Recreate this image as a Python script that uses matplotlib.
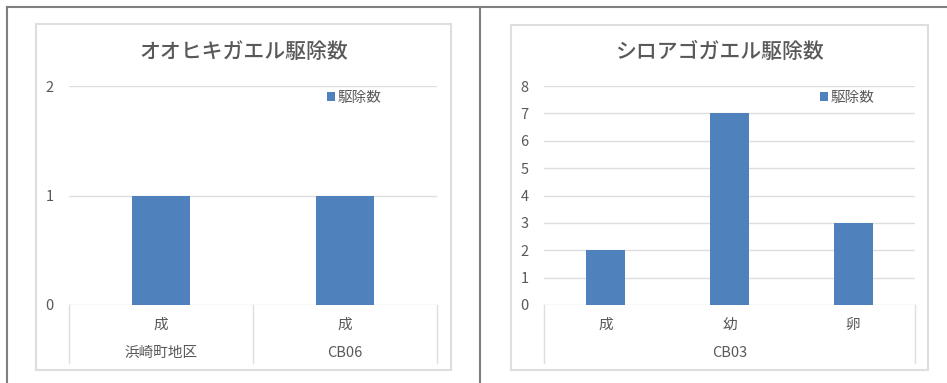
import matplotlib.pyplot as plt
from matplotlib.lines import Line2D
from matplotlib.patches import Rectangle
from matplotlib.transforms import blended_transform_factory

plt.rcParams['font.family'] = ['Noto Sans CJK JP', 'DejaVu Sans']

# オオヒキガエル
toad_stages = ['成', '成']
toad_groups = ['浜崎町地区', 'CB06']
toad_group_sizes = [1, 1]
toad_counts = [1, 1]

# シロアゴガエル
frog_stages = ['成', '幼', '卵']
frog_groups = ['CB03']
frog_group_sizes = [3]
frog_counts = [2, 7, 3]

W, H = 947, 383
BLUE = '#4f81bd'
GRID = '#dedede'
TEXT = '#595959'

fig = plt.figure(figsize=(W / 100, H / 100), dpi=100)


def box(x0, y0, x1, y1):
    # pixel box (top-left origin) -> figure fraction rect
    return [x0 / W, 1 - y1 / H, (x1 - x0) / W, (y1 - y0) / H]


def fline(xs, ys, **kw):
    fig.add_artist(Line2D([x / W for x in xs], [1 - y / H for y in ys],
                          transform=fig.transFigure, **kw))


# table borders around the two charts
fline([7, W], [7, 7], color='#7f7f7f', lw=1.5)
fline([7, 7], [7, H], color='#7f7f7f', lw=1.5)
fline([480, 480], [7, H], color='#7f7f7f', lw=1.5)


def chart(frame, plot, legend_xy, title, stages, groups, sizes, counts, ymax):
    fx0, fy0, fx1, fy1 = frame
    r = box(*frame)
    fig.add_artist(Rectangle((r[0], r[1]), r[2], r[3], transform=fig.transFigure,
                             fill=False, edgecolor=GRID, lw=1.5))
    fig.text((fx0 + fx1) / 2 / W, 1 - 52 / H, title, ha='center', va='center',
             fontsize=15, color=TEXT, fontweight='medium')

    ax = fig.add_axes(box(*plot))
    n = len(counts)
    ax.bar(range(n), counts, width=0.315, color=BLUE, label='駆除数', zorder=3)
    ax.set_xlim(-0.5, n - 0.5)
    ax.set_ylim(0, ymax)
    ax.set_yticks(range(ymax + 1))
    ax.set_xticks([])
    ax.grid(axis='y', color=GRID, lw=1)
    ax.set_axisbelow(True)
    for s in ax.spines.values():
        s.set_visible(False)
    ax.tick_params(axis='y', length=0, pad=11, labelsize=10.5, labelcolor=TEXT)

    # category table under the axis
    ph = plot[3] - plot[1]
    tr = blended_transform_factory(ax.transData, ax.transAxes)
    for i, lab in enumerate(stages):
        ax.text(i, -20 / ph, lab, transform=tr, ha='center', va='center',
                fontsize=10.5, color=TEXT)
    start = 0
    edges = [-0.5]
    for name, size in zip(groups, sizes):
        ax.text(start + (size - 1) / 2, -48 / ph, name, transform=tr,
                ha='center', va='center', fontsize=10.5, color=TEXT)
        start += size
        edges.append(start - 0.5)
    for e in edges:
        ax.plot([e, e], [0, -58 / ph], transform=tr, color=GRID, lw=1,
                clip_on=False)

    ax.legend(loc='upper left', bbox_to_anchor=(legend_xy[0] / W, 1 - legend_xy[1] / H),
              bbox_transform=fig.transFigure, frameon=False, borderpad=0,
              borderaxespad=0, handlelength=0.55, handleheight=0.55,
              handletextpad=0.2, prop={'size': 10.5}, labelcolor=TEXT)
    return ax


chart((36, 24, 451, 370), (69, 86, 437, 305), (327, 91),
      'オオヒキガエル駆除数', toad_stages, toad_groups, toad_group_sizes,
      toad_counts, 2)
chart((511, 25, 928, 370), (544, 86, 915, 305), (820, 91),
      'シロアゴガエル駆除数', frog_stages, frog_groups, frog_group_sizes,
      frog_counts, 8)

fig.savefig('out.png', dpi=100, facecolor='white')
